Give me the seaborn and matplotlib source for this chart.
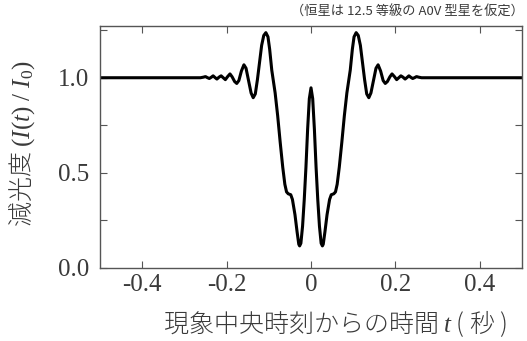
import matplotlib
matplotlib.use("Agg")
import matplotlib.pyplot as plt
import seaborn as sns
import pandas as pd

# time from event centre (s) and normalised flux
t_sec = [-0.500, -0.300, -0.262, -0.255, -0.250, -0.246, -0.241, -0.236, -0.232,
         -0.228, -0.223, -0.218, -0.213, -0.208, -0.203, -0.198, -0.192, -0.187,
         -0.181, -0.176, -0.171, -0.165, -0.159, -0.154, -0.148, -0.142, -0.137,
         -0.132, -0.127, -0.122, -0.117, -0.112, -0.107, -0.102, -0.098, -0.093,
         -0.085, -0.079, -0.073, -0.067, -0.062, -0.058, -0.054, -0.048, -0.044,
         -0.038, -0.033, -0.029, -0.027, -0.024, -0.020, -0.016, -0.012, -0.008,
         -0.004, 0.000,
         0.004, 0.008, 0.012, 0.016, 0.020, 0.024, 0.027, 0.029, 0.033, 0.038,
         0.044, 0.048, 0.054, 0.058, 0.062, 0.067, 0.073, 0.079, 0.085, 0.093,
         0.098, 0.102, 0.107, 0.112, 0.117, 0.122, 0.127, 0.132, 0.137, 0.142,
         0.148, 0.154, 0.159, 0.165, 0.171, 0.176, 0.181, 0.187, 0.192, 0.198,
         0.203, 0.208, 0.213, 0.218, 0.223, 0.228, 0.232, 0.236, 0.241, 0.246,
         0.250, 0.255, 0.262, 0.300, 0.500]
flux = [1.000, 1.000, 1.000, 1.003, 1.006, 1.001, 0.996, 1.003, 1.010,
        1.002, 0.993, 1.003, 1.010, 1.000, 0.990, 1.005, 1.020, 1.005,
        0.980, 0.970, 0.985, 1.035, 1.068, 1.050, 0.985, 0.920, 0.895,
        0.915, 0.990, 1.080, 1.170, 1.222, 1.237, 1.215, 1.150, 1.040,
        0.920, 0.800, 0.660, 0.530, 0.440, 0.400, 0.390, 0.385, 0.360,
        0.280, 0.190, 0.125, 0.116, 0.130, 0.220, 0.360, 0.530, 0.730,
        0.890, 0.947,
        0.890, 0.730, 0.530, 0.360, 0.220, 0.130, 0.116, 0.125, 0.190, 0.280,
        0.360, 0.385, 0.390, 0.400, 0.440, 0.530, 0.660, 0.800, 0.920, 1.040,
        1.150, 1.215, 1.237, 1.222, 1.170, 1.080, 0.990, 0.915, 0.895, 0.920,
        0.985, 1.050, 1.068, 1.035, 0.985, 0.970, 0.980, 1.005, 1.020, 1.005,
        0.990, 1.000, 1.010, 1.003, 0.993, 1.002, 1.010, 1.003, 0.996, 1.001,
        1.006, 1.003, 1.000, 1.000, 1.000]

x_ticks = [-0.4, -0.2, 0.0, 0.2, 0.4]
x_tick_labels = ["-0.4", "-0.2", "0", "0.2", "0.4"]
y_ticks = [0.0, 0.25, 0.5, 0.75, 1.0, 1.25]
y_tick_labels = ["0.0", "", "0.5", "", "1.0", ""]

sns.set_style("ticks")
plt.rcParams["font.family"] = ["Liberation Serif", "Noto Sans CJK JP"]
plt.rcParams["mathtext.fontset"] = "custom"
plt.rcParams["mathtext.rm"] = "Liberation Serif"
plt.rcParams["mathtext.it"] = "Liberation Serif:italic"

df = pd.DataFrame({"t": t_sec, "f": flux})

fig = plt.figure(figsize=(5.27, 3.41), dpi=100)
ax = fig.add_axes([0.1898, 0.2141, 0.8007, 0.7097])
sns.lineplot(data=df, x="t", y="f", ax=ax, color="black", lw=2.2,
             sort=False, estimator=None)

ax.set_xlim(-0.5, 0.5)
ax.set_ylim(0, 1.272)
ax.set_xticks(x_ticks)
ax.set_xticklabels(x_tick_labels)
ax.set_yticks(y_ticks)
ax.set_yticklabels(y_tick_labels)
ax.tick_params(direction="in", top=True, right=True, length=5, width=0.8,
               color="#555555", labelsize=18, labelcolor="#3a3a3a")
ax.tick_params(axis="x", pad=4)
ax.tick_params(axis="y", pad=8)
for s in ax.spines.values():
    s.set_color("#555555")
    s.set_linewidth(1.0)

ax.set_xlabel("現象中央時刻からの時間 $t$ ( 秒 )", family="Noto Sans CJK JP",
              fontsize=18, color="#3a3a3a", fontweight="light")
ax.xaxis.set_label_coords(0.557, -0.165)
ax.set_ylabel("減光度 $(I(t)\\ /\\ I_0)$", family="Noto Sans CJK JP",
              fontsize=18, color="#3a3a3a", fontweight="light")
ax.yaxis.set_label_coords(-0.149, 0.515)
fig.text(0.995, 0.965, "（恒星は 12.5 等級の A0V 型星を仮定）",
         family=["Noto Sans CJK JP"], fontsize=9.5, color="#3a3a3a",
         ha="right", va="center")

fig.savefig("out.png", dpi=100)
